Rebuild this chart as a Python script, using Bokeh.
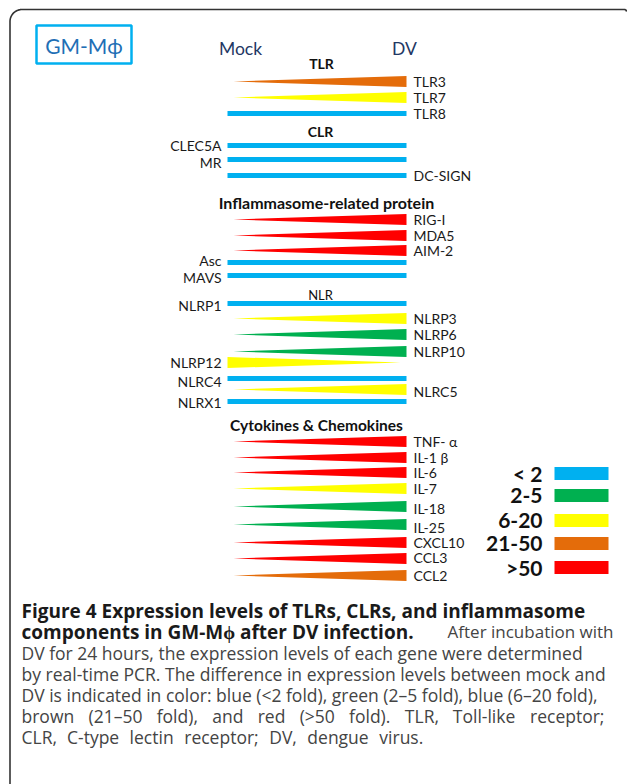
import numpy as np
from bokeh.plotting import figure
from bokeh.models import Range1d
from bokeh.core.properties import value
from bokeh.embed import file_html
from bokeh.resources import INLINE

# ---------------- data ----------------
genes = ["TLR3", "TLR7", "TLR8", "CLEC5A", "MR", "DC-SIGN",
         "RIG-I", "MDA5", "AIM-2", "Asc", "MAVS",
         "NLRP1", "NLRP3", "NLRP6", "NLRP10", "NLRP12", "NLRC4", "NLRC5", "NLRX1",
         "TNF- α", "IL-1 β", "IL-6", "IL-7", "IL-18", "IL-25", "CXCL10", "CCL3", "CCL2"]
fold = ["21-50", "6-20", "<2", "<2", "<2", "<2",
        ">50", ">50", ">50", "<2", "<2",
        "<2", "6-20", "2-5", "2-5", "6-20", "<2", "6-20", "<2",
        ">50", ">50", ">50", "6-20", "2-5", "2-5", ">50", ">50", "21-50"]
direction = ["up", "up", "flat", "flat", "flat", "flat",
             "up", "up", "up", "flat", "flat",
             "flat", "up", "up", "up", "down", "flat", "up", "flat",
             "up", "up", "up", "up", "up", "up", "up", "up", "up"]
label_side = ["right", "right", "right", "left", "left", "right",
              "right", "right", "right", "left", "left",
              "left", "right", "right", "right", "left", "left", "right", "left",
              "right", "right", "right", "right", "right", "right", "right", "right", "right"]
fold_levels = ["<2", "2-5", "6-20", "21-50", ">50"]
legend_labels = ["< 2", "2-5", "6-20", "21-50", ">50"]
group_titles = ["TLR", "CLR", "Inflammasome-related protein", "NLR", "Cytokines & Chemokines"]

# ---------------- layout / style ----------------
fold_colors = {"<2": "#00b0f0", "2-5": "#00b050", "6-20": "#ffff00",
               "21-50": "#e46c0a", ">50": "#ff0000"}
row_y = [81, 97, 113, 145, 159, 175,
         219, 235, 250, 262, 275,
         303, 318, 334, 351, 362, 378, 389, 401,
         441, 457, 472, 488, 506, 524, 542, 558, 575]
label_dy = {"MR": 3, "MAVS": 2, "NLRP1": 2, "NLRC4": 3, "NLRC5": 2, "NLRX1": 1,
            "IL-18": 2, "IL-25": 3, "Asc": -2, "CCL3": -1}
title_pos = [(321, 63, "bold", "14px"), (320, 131, "bold", "14px"),
             (326, 202, "bold", "16px"), (320, 294, "normal", "13px"),
             (316, 424, "bold", "15.5px")]
legend_y = [473, 495, 520, 543, 567]

W, H = 627, 784
p = figure(width=W, height=H, output_backend="svg", toolbar_location=None,
           x_range=Range1d(0, W), y_range=Range1d(H, 0),
           min_border=0)
p.axis.visible = False
p.grid.visible = False
p.outline_line_color = None
p.background_fill_color = "white"

FONT = value("Lato")

# frame with rounded top-left corner
r = 12
ang = np.linspace(np.pi, 1.5 * np.pi, 20)
cx, cy = 9.5 + r, 9.0 + r
ang2 = np.linspace(1.5 * np.pi, 2 * np.pi, 6)
fx = [9.5] + list(cx + r * np.cos(ang)) + [624] + list(624 + 2 * np.cos(ang2))
fy = [800] + list(cy + r * np.sin(ang)) + [9.0] + list(11 + 2 * np.sin(ang2))
p.line(fx, fy, line_color="#333333", line_width=1.6)

# GM-Mphi box
p.quad(left=[36], right=[131], top=[25], bottom=[63], fill_color=None,
       line_color="#00b0f0", line_width=2.5)
p.text(x=[83.5], y=[45], text=["GM-Mϕ"], text_font=FONT, text_font_size="21px",
       text_color="#1f6fb5", text_align="center", text_baseline="middle")

# column headers
p.text(x=[240, 404], y=[48, 48], text=["Mock", "DV"], text_font=FONT,
       text_font_size="17.5px", text_color="#1f3864", text_align="center",
       text_baseline="middle")

# group titles
for (tx, ty, style, size), t in zip(title_pos, group_titles):
    p.text(x=[tx], y=[ty], text=[t], text_font=FONT, text_font_size=size,
           text_font_style=style, text_color="#111111", text_align="center",
           text_baseline="middle")

# wedges and bars
X_TIP, X_END, HALF = 233, 406, 5.5
BAR_L, BAR_R, BAR_H = 227, 406, 5
DOWN_L, DOWN_TIP = 227, 400
wx, wy, wc = [], [], []
bl, br, bt, bb = [], [], [], []
for g, f, d, y in zip(genes, fold, direction, row_y):
    if d == "flat":
        bl.append(BAR_L); br.append(BAR_R)
        bt.append(y - BAR_H / 2); bb.append(y + BAR_H / 2)
    elif d == "up":
        wx.append([X_TIP, X_END, X_END]); wy.append([y, y - HALF, y + HALF])
        wc.append(fold_colors[f])
    else:
        wx.append([DOWN_L, DOWN_L, DOWN_TIP]); wy.append([y - HALF, y + HALF, y])
        wc.append(fold_colors[f])
p.patches(xs=wx, ys=wy, fill_color=wc, line_color=None)
p.quad(left=bl, right=br, top=bt, bottom=bb, fill_color=fold_colors["<2"], line_color=None)

# gene labels
rx, ry, rt, lx, ly, lt = [], [], [], [], [], []
for g, s, y in zip(genes, label_side, row_y):
    yy = y + label_dy.get(g, 0)
    if s == "right":
        rx.append(413); ry.append(yy); rt.append(g)
    else:
        lx.append(221); ly.append(yy); lt.append(g)
p.text(x=rx, y=ry, text=rt, text_font=FONT, text_font_size="14px",
       text_color="#1a1a1a", text_align="left", text_baseline="middle")
p.text(x=lx, y=ly, text=lt, text_font=FONT, text_font_size="14px",
       text_color="#1a1a1a", text_align="right", text_baseline="middle")

# legend
p.text(x=[542] * 5, y=legend_y, text=legend_labels, text_font=FONT,
       text_font_size="21px", text_font_style="bold", text_color="#111111",
       text_align="right", text_baseline="middle")
p.quad(left=[554] * 5, right=[608] * 5,
       top=[yy - 6.5 for yy in legend_y], bottom=[yy + 6.5 for yy in legend_y],
       fill_color=[fold_colors[f] for f in fold_levels], line_color=None)

# caption
CAP = value("Open Sans")
CAP_SIZE = 17.5
bold_lines = [("Figure 4 Expression levels of TLRs, CLRs, and inflammasome", 21, 610),
              ("components in GM-Mϕ after DV infection.", 21, 631)]
p.text(x=[b[1] for b in bold_lines], y=[b[2] for b in bold_lines],
       text=[b[0] for b in bold_lines], text_font=CAP, text_font_size="19px",
       text_font_style="bold", text_color="#1a1a1a", text_align="left",
       text_baseline="middle")
p.text(x=[613], y=[631], text=["After incubation with"], text_font=CAP,
       text_font_size="17px", text_color="#444444", text_align="right",
       text_baseline="middle")
norm_lines = [("DV for 24 hours, the expression levels of each gene were determined", 21, 652),
              ("by real-time PCR. The difference in expression levels between mock and", 21, 673),
              ("DV is indicated in color: blue (<2 fold), green (2–5 fold), blue (6–20 fold),", 21, 694)]
p.text(x=[b[1] for b in norm_lines], y=[b[2] for b in norm_lines],
       text=[b[0] for b in norm_lines], text_font=CAP, text_font_size=f"{CAP_SIZE}px",
       text_color="#444444", text_align="left", text_baseline="middle")

# approximate Open Sans advance widths (em) to spread words like the justified original
ADV = {"a": .556, "b": .613, "c": .48, "d": .613, "e": .561, "f": .336, "g": .55,
       "h": .614, "i": .258, "k": .525, "l": .258, "n": .614, "o": .603, "p": .613,
       "r": .409, "s": .477, "t": .352, "u": .614, "v": .5, "w": .775, "y": .5,
       "C": .63, "D": .729, "L": .519, "R": .6, "T": .556, "V": .6, "(": .297,
       ")": .297, ",": .25, ".": .266, ";": .266, "–": .5, "-": .322, ">": .571}


def word_w(wd):
    return sum(ADV.get(ch, .571) for ch in wd) * CAP_SIZE


def spread(words, x0, x1):
    widths = [word_w(wd) for wd in words]
    gap = (x1 - x0 - sum(widths)) / (len(words) - 1)
    xs, x = [], x0
    for w_ in widths:
        xs.append(x)
        x += w_ + gap
    return xs


line6 = "brown (21–50 fold), and red (>50 fold). TLR, Toll-like receptor;".split()
line7 = "CLR, C-type lectin receptor; DV, dengue virus.".split()
x6 = spread(line6, 21, 604)
x7 = spread(line7, 21, 423)
p.text(x=x6 + x7, y=[715] * len(line6) + [736] * len(line7),
       text=line6 + line7, text_font=CAP, text_font_size=f"{CAP_SIZE}px",
       text_color="#444444", text_align="left", text_baseline="middle")

open("out.html", "w").write(file_html(p, INLINE))
